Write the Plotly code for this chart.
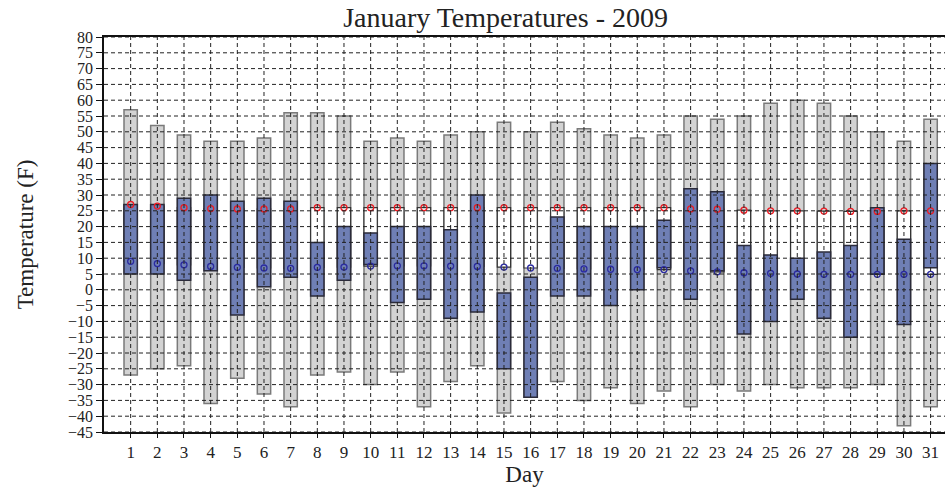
import plotly.graph_objects as go

days = list(range(1, 32))
record_high = [57, 52, 49, 47, 47, 48, 56, 56, 55, 47, 48, 47, 49, 50, 53, 50,
               53, 51, 49, 48, 49, 55, 54, 55, 59, 60, 59, 55, 50, 47, 54]
record_low = [-27, -25, -24, -36, -28, -33, -37, -27, -26, -30, -26, -37, -29, -24, -39, -34,
              -29, -35, -31, -36, -32, -37, -30, -32, -30, -31, -31, -31, -30, -43, -37]
normal_high = [27, 26.5, 26, 25.7, 25.6, 25.6, 25.6, 26, 26, 26, 26, 26, 26, 26, 26, 26,
               26, 26, 26, 26, 26, 25.6, 25.5, 25.2, 25, 25, 24.9, 24.8, 24.8, 25, 25]
normal_low = [9, 8.3, 7.9, 7.4, 7.1, 6.9, 6.8, 7.1, 7.2, 7.5, 7.6, 7.6, 7.5, 7.4, 7.2, 6.9,
              6.8, 6.6, 6.5, 6.4, 6.4, 6.0, 5.7, 5.4, 5.2, 5.0, 4.9, 4.9, 4.9, 4.9, 4.9]
actual_high = [27, 27, 29, 30, 28, 29, 28, 15, 20, 18, 20, 20, 19, 30, -1, 4,
               23, 20, 20, 20, 22, 32, 31, 14, 11, 10, 12, 14, 26, 16, 40]
actual_low = [5, 5, 3, 6, -8, 1, 4, -2, 3, 8, -4, -3, -9, -7, -25, -34,
              -2, -2, -5, 0, 7, -3, 6, -14, -10, -3, -9, -15, 5, -11, 7]

y_ticks = list(range(-45, 81, 5))
x_ticks = days

FONT = "Liberation Serif, Times New Roman, serif"
BAR_W = 0.5

fig = go.Figure()

fig.add_trace(go.Bar(
    x=days, base=record_low, y=[h - l for h, l in zip(record_high, record_low)],
    width=BAR_W, marker=dict(color="#d3d3d3", line=dict(color="#7a7a7a", width=1.5)),
    hoverinfo="skip", name="Record"))
fig.add_trace(go.Bar(
    x=days, base=normal_low, y=[h - l for h, l in zip(normal_high, normal_low)],
    width=BAR_W, marker=dict(color="#ffffff", line=dict(color="#333333", width=1.2)),
    hoverinfo="skip", name="Normal"))
fig.add_trace(go.Bar(
    x=days, base=actual_low, y=[h - l for h, l in zip(actual_high, actual_low)],
    width=BAR_W, marker=dict(color="#6f7fb5", line=dict(color="#2b2b3a", width=1.5)),
    hoverinfo="skip", name="Actual"))

# grid lines drawn above the bars
shapes = []
for v in y_ticks:
    shapes.append(dict(type="line", xref="paper", yref="y", x0=0, x1=1, y0=v, y1=v,
                       line=dict(color="#222222", width=1, dash="4px,3px"), layer="above"))
for d in x_ticks:
    shapes.append(dict(type="line", xref="x", yref="paper", x0=d, x1=d, y0=0, y1=1,
                       line=dict(color="#222222", width=1, dash="4px,3px"), layer="above"))
fig.update_layout(shapes=shapes)

fig.add_trace(go.Scatter(
    x=days, y=normal_high, mode="markers",
    marker=dict(symbol="circle-open", size=6, color="#ee1c24", line=dict(width=1.3)),
    hoverinfo="skip"))
fig.add_trace(go.Scatter(
    x=days, y=normal_low, mode="markers",
    marker=dict(symbol="circle-open", size=6, color="#2a2aa0", line=dict(width=1.3)),
    hoverinfo="skip"))

fig.update_layout(
    width=945, height=487,
    barmode="overlay",
    showlegend=False,
    plot_bgcolor="white", paper_bgcolor="white",
    margin=dict(l=104, r=0, t=37, b=55),
    font=dict(family=FONT, size=16, color="#222222"),
    title=dict(text="January Temperatures - 2009", x=0.535, xref="container",
               xanchor="center", y=0.965, yref="container", yanchor="middle",
               font=dict(family=FONT, size=28, color="#222222")),
    xaxis=dict(range=[0, 31.54], tickvals=x_ticks, ticktext=[str(d) for d in x_ticks],
               showgrid=False, zeroline=False, showline=True, linecolor="#111111",
               linewidth=1.5, mirror=True, ticks="outside", ticklen=4, tickcolor="#111111",
               tickfont=dict(family=FONT, size=17, color="#222222"),
               title=dict(text="Day", font=dict(family=FONT, size=23, color="#222222"),
                          standoff=6)),
    yaxis=dict(range=[-45, 80], tickvals=y_ticks, showgrid=False, zeroline=False,
               showline=True, linecolor="#111111", linewidth=1.5,
               ticks="outside", ticklen=6, tickcolor="#111111",
               tickfont=dict(family=FONT, size=16, color="#222222"),
               title=dict(text="Temperature (F)", font=dict(family=FONT, size=23, color="#222222"),
                          standoff=28)),
)

# remove the browser's default 8px page margin so the figure fills the window
fig.write_html("out.html", config={"displayModeBar": False},
               post_script="document.body.style.margin='0';")
